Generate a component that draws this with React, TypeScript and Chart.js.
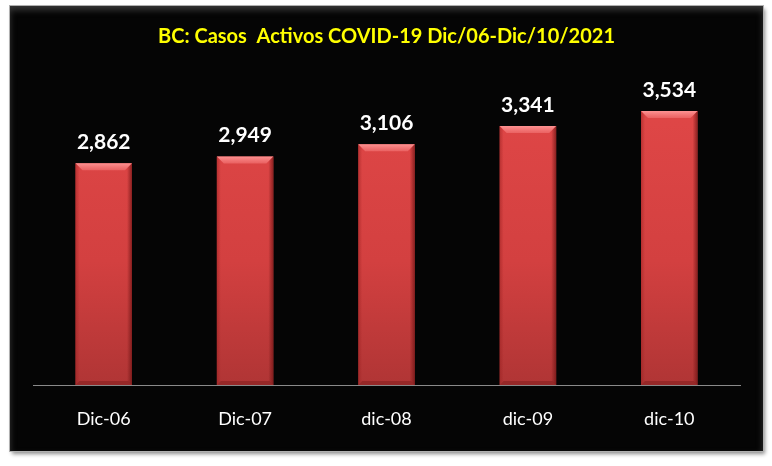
import React, { useEffect, useRef } from "react";
import { Chart, registerables } from "chart.js";

Chart.register(...registerables);

const categories = ["Dic-06", "Dic-07", "dic-08", "dic-09", "dic-10"];
const activeCases = [2862, 2949, 3106, 3341, 3534];
const titleText = "BC: Casos  Activos COVID-19 Dic/06-Dic/10/2021";

const FONT = "Lato, 'Open Sans', sans-serif";

const valueLabels = {
  id: "valueLabels",
  afterDatasetsDraw(chart: any) {
    const ctx = chart.ctx;
    const meta = chart.getDatasetMeta(0);
    ctx.save();
    meta.data.forEach((bar: any, i: number) => {
      const { x, y, base, width } = bar.getProps(["x", "y", "base", "width"], true);
      const left = x - width / 2;
      const right = x + width / 2;
      const b = 7;
      // top bevel
      const gTop = ctx.createLinearGradient(0, y, 0, y + b);
      gTop.addColorStop(0, "rgba(255,150,150,0.95)");
      gTop.addColorStop(1, "rgba(240,110,110,0.7)");
      ctx.fillStyle = gTop;
      ctx.beginPath();
      ctx.moveTo(left, y);
      ctx.lineTo(right, y);
      ctx.lineTo(right - b, y + b);
      ctx.lineTo(left + b, y + b);
      ctx.closePath();
      ctx.fill();
      // left bevel
      const gL = ctx.createLinearGradient(left, 0, left + 4, 0);
      gL.addColorStop(0, "rgba(150,30,30,0.5)");
      gL.addColorStop(1, "rgba(150,30,30,0)");
      ctx.fillStyle = gL;
      ctx.beginPath();
      ctx.moveTo(left, y);
      ctx.lineTo(left + b, y + b);
      ctx.lineTo(left + 4, base - 4);
      ctx.lineTo(left, base);
      ctx.closePath();
      ctx.fill();
      // right bevel
      const gR = ctx.createLinearGradient(right, 0, right - 5, 0);
      gR.addColorStop(0, "rgba(110,20,20,0.75)");
      gR.addColorStop(1, "rgba(110,20,20,0)");
      ctx.fillStyle = gR;
      ctx.beginPath();
      ctx.moveTo(right, y);
      ctx.lineTo(right - b, y + b);
      ctx.lineTo(right - 5, base - 4);
      ctx.lineTo(right, base);
      ctx.closePath();
      ctx.fill();
      // bottom bevel
      ctx.fillStyle = "rgba(120,25,25,0.45)";
      ctx.beginPath();
      ctx.moveTo(left, base);
      ctx.lineTo(right, base);
      ctx.lineTo(right - 4, base - 4);
      ctx.lineTo(left + 4, base - 4);
      ctx.closePath();
      ctx.fill();

      ctx.fillStyle = "#ffffff";
      ctx.font = "bold 21px " + FONT;
      ctx.textAlign = "center";
      ctx.textBaseline = "middle";
      ctx.fillText(activeCases[i].toLocaleString("en-US"), x, y - 21);
    });
    ctx.restore();
  },
};

export default function App() {
  const ref = useRef<HTMLCanvasElement>(null);
  useEffect(() => {
    const c = ref.current!;
    const chart = new Chart(c, {
      type: "bar",
      data: {
        labels: categories,
        datasets: [
          {
            data: activeCases,
            backgroundColor: (ctx: any) => {
              const ch = ctx.chart;
              const area = ch.chartArea;
              if (!area) return "#d84444";
              const g = ch.ctx.createLinearGradient(0, area.top, 0, area.bottom);
              g.addColorStop(0, "#e24848");
              g.addColorStop(0.6, "#d34040");
              g.addColorStop(1, "#b03535");
              return g;
            },
            borderWidth: 0,
            categoryPercentage: 0.8,
            barPercentage: 0.5,
          },
        ],
      },
      plugins: [valueLabels],
      options: {
        animation: false,
        responsive: false,
        maintainAspectRatio: false,
        layout: { padding: { left: 23, right: 23, top: 0, bottom: 0 } },
        plugins: {
          legend: { display: false },
          tooltip: { enabled: false },
          title: {
            display: true,
            text: titleText,
            color: "#ffff00",
            font: { family: FONT, size: 20, weight: "bold" },
            padding: { top: 19, bottom: 26 },
          },
        },
        scales: {
          x: {
            grid: { display: false, drawTicks: false },
            border: { display: true, color: "#8a8a8a", width: 1 },
            ticks: { color: "#ffffff", font: { family: FONT, size: 18 }, padding: 23 },
            afterFit: (s: any) => {
              s.height = 66;
            },
          },
          y: {
            display: false,
            min: 0,
            max: 4000,
          },
        },
      },
    });
    return () => chart.destroy();
  }, []);

  return (
    <div style={{ position: "fixed", left: 0, top: 0, width: 772, height: 466, background: "#ffffff" }}>
      <div
        style={{
          position: "absolute",
          left: 10,
          top: 6,
          width: 753,
          height: 445,
          background: "#050505",
          boxShadow: "2px 3px 4px rgba(0,0,0,0.45), inset 0 4px 6px rgba(90,90,90,0.6)",
          outline: "1px solid #b0b0b0",
        }}
      >
        <canvas ref={ref} width={753} height={445} style={{ display: "block" }} />
      </div>
    </div>
  );
}
